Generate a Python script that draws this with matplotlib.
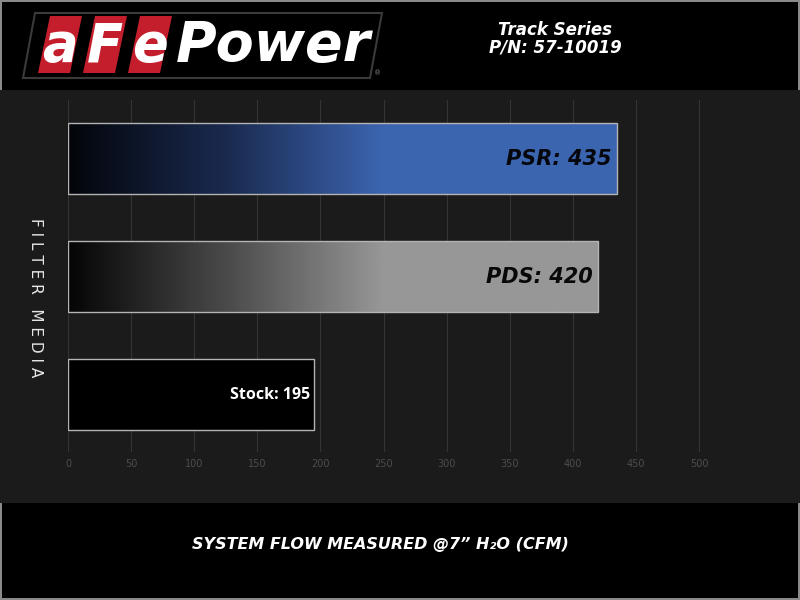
import numpy as np
import matplotlib
matplotlib.use("Agg")
import matplotlib.pyplot as plt
from matplotlib.colors import LinearSegmentedColormap
from matplotlib.patches import Rectangle, Polygon

# data
media = ["PSR", "PDS", "Stock"]
flow = [435, 420, 195]
bar_labels = ["PSR: 435", "PDS: 420", "Stock: 195"]
ticks = [0, 50, 100, 150, 200, 250, 300, 350, 400, 450, 500]

W, H = 800, 600


def fx(px):
    return px / W


def fy(py):
    return 1 - py / H


fig = plt.figure(figsize=(8, 6), dpi=100)
fig.patch.set_facecolor("black")
fig.patch.set_edgecolor("#8a8a8a")
fig.patch.set_linewidth(1.5)

# dark chart band
fig.patches.append(Rectangle((0, fy(503)), 1, fy(90) - fy(503), transform=fig.transFigure,
                             facecolor="#1b1b1b", edgecolor="none", zorder=-5))

ax = fig.add_axes([fx(68), fy(452), fx(702) - fx(68), fy(100) - fy(452)])
ax.set_zorder(2)
ax.set_facecolor("none")
for s in ax.spines.values():
    s.set_visible(False)
ax.set_yticks([])
ax.set_xticks(ticks)
ax.set_xticklabels([str(t) for t in ticks])
ax.tick_params(axis="x", length=0, pad=5, labelsize=7, labelcolor="#4d4d4d")
ax.grid(axis="x", color="#343434", linewidth=0.8)
ax.set_axisbelow(True)

bar_h = 0.6
full_at = 250  # where the gradient reaches its full colour
cmaps = [
    LinearSegmentedColormap.from_list("psr", ["#03050a", "#1a2a4f", "#3c65b0"]),
    LinearSegmentedColormap.from_list("pds", ["#050505", "#4a4a4a", "#979797"]),
    None,
]

for i, v in enumerate(flow):
    if cmaps[i] is not None:
        xs = np.linspace(0, v, 400)
        grad = np.clip(xs / full_at, 0, 1)[None, :]
        ax.imshow(grad, cmap=cmaps[i], vmin=0, vmax=1, aspect="auto",
                  extent=(0, v, i + bar_h / 2, i - bar_h / 2), zorder=2,
                  interpolation="bilinear")
        ax.add_patch(Rectangle((0, i - bar_h / 2), v, bar_h, facecolor="none",
                               edgecolor="#b4b4b4", linewidth=1, zorder=3))
    else:
        ax.add_patch(Rectangle((0, i - bar_h / 2), v, bar_h, facecolor="black",
                               edgecolor="#b4b4b4", linewidth=1, zorder=3))

ax.text(flow[0] - 4, 0, bar_labels[0], ha="right", va="center", fontsize=15,
        fontweight="bold", fontstyle="italic", color="#05070c", zorder=4)
ax.text(flow[1] - 4, 1, bar_labels[1], ha="right", va="center", fontsize=15,
        fontweight="bold", fontstyle="italic", color="#080808", zorder=4)
ax.text(flow[2] - 3, 2, bar_labels[2], ha="right", va="center", fontsize=11.5,
        fontweight="bold", family="Open Sans", color="white", zorder=4)

ax.set_xlim(0, (702 - 68) / 1.262)
ax.set_ylim(2.487, -0.496)

# axis titles
fig.text(fx(35), fy(298), "F I L T E R   M E D I A", rotation=270, ha="center", va="center",
         fontsize=11, color="#e6e6e6")
fig.text(fx(380), fy(545), "SYSTEM FLOW MEASURED @7\u201d H\u2082O (CFM)", ha="center", va="center",
         fontsize=11.5, fontweight="bold", fontstyle="italic", color="white")

# header
fig.text(fx(555), fy(30), "Track Series", ha="center", va="center", fontsize=12,
         fontweight="bold", fontstyle="italic", color="white")
fig.text(fx(555), fy(48), "P/N: 57-10019", ha="center", va="center", fontsize=12,
         fontweight="bold", fontstyle="italic", color="white")

# logo
sk = 12
fig.patches.append(Polygon([(fx(23 + sk), fy(13)), (fx(382), fy(13)), (fx(382 - sk), fy(78)),
                            (fx(23), fy(78))], closed=True, transform=fig.transFigure,
                           facecolor="black", edgecolor="#3a3a3a", linewidth=1.5, zorder=1))
box_x = [38, 83, 128]
for bx, ch in zip(box_x, ["a", "F", "e"]):
    fig.patches.append(Polygon([(fx(bx + sk), fy(16)), (fx(bx + 44), fy(16)), (fx(bx + 44 - sk), fy(73)),
                                (fx(bx), fy(73))], closed=True, transform=fig.transFigure,
                               facecolor="#c41e2c", edgecolor="none", zorder=2))
    fig.text(fx(bx + 22), fy(46), ch, ha="center", va="center", fontsize=38,
             fontweight="bold", fontstyle="italic", color="white", zorder=3)
fig.text(fx(176), fy(46), "Power", ha="left", va="center", fontsize=40,
         fontweight="bold", fontstyle="italic", color="white", zorder=3)
fig.text(fx(378), fy(73), "\u00ae", ha="center", va="center", fontsize=5, color="#888888", zorder=3)

fig.savefig("out.png", dpi=100, facecolor=fig.get_facecolor(), edgecolor=fig.get_edgecolor())
